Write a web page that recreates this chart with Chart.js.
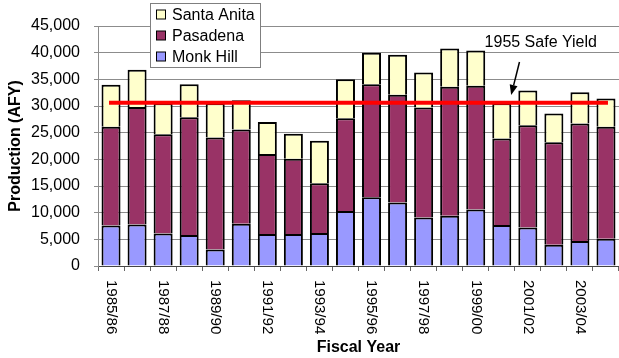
<!DOCTYPE html>
<html>
<head>
<meta charset="utf-8">
<script src="https://cdn.jsdelivr.net/npm/chart.js@4/dist/chart.umd.min.js"></script>
<style>
  html, body { margin: 0; padding: 0; background: #ffffff; }
  #wrap { width: 619px; height: 358px; }
</style>
</head>
<body>
<div id="wrap"><canvas id="chart" width="619" height="358"></canvas></div>
<script>
// Fiscal years on the x axis
const fiscalYears = [
  '1985/86', '1986/87', '1987/88', '1988/89', '1989/90',
  '1990/91', '1991/92', '1992/93', '1993/94', '1994/95',
  '1995/96', '1996/97', '1997/98', '1998/99', '1999/00',
  '2000/01', '2001/02', '2002/03', '2003/04', '2004/05'
];

// Production by subarea (acre-feet per year)
const monkHill = [
  7600, 7800, 6100, 5800, 3100, 7900, 6000, 6000, 6200, 10300,
  12900, 11900, 9100, 9400, 10600, 7700, 7200, 4000, 4700, 5100
];
const pasadena = [
  18500, 22000, 18600, 22100, 21000, 17700, 15000, 14100, 9300, 17400,
  21200, 20200, 20600, 24200, 23200, 16200, 19200, 19200, 22000, 21000
];
const santaAnita = [
  7900, 7000, 5800, 6200, 6400, 5500, 6000, 4700, 8000, 7300,
  5900, 7500, 6600, 7200, 6600, 6600, 6500, 5400, 5900, 5300
];

// 1955 safe yield reference level
const safeYield = 30600;
const safeYieldLine = fiscalYears.map(() => safeYield);

// Axis tick values
const yTicks = [0, 5000, 10000, 15000, 20000, 25000, 30000, 35000, 40000, 45000];

const FONT = "'Liberation Sans', Arial, Helvetica, sans-serif";

// Caption and arrow for the safe-yield line, placed in data units
const safeYieldNote = {
  text: '1955 Safe Yield',
  textAt: { x: 14.34, y: 40970 },
  arrowFrom: { x: 15.68, y: 38250 },
  arrowTo: { x: 15.36, y: 32060 }
};

const overlayPlugin = {
  id: 'overlay',
  afterDraw(chart) {
    const ctx = chart.ctx;
    const xs = chart.scales.x;
    const ys = chart.scales.y;

    // Vertical fiscal-year labels, every other year
    ctx.save();
    ctx.fillStyle = '#000';
    ctx.font = '15px ' + FONT;
    ctx.textAlign = 'left';
    ctx.textBaseline = 'middle';
    fiscalYears.forEach((label, i) => {
      if (i % 2 !== 0) return;
      const px = xs.getPixelForValue(i);
      ctx.save();
      ctx.translate(px, xs.top + 14);
      ctx.rotate(Math.PI / 2);
      ctx.fillText(label, 0, 0);
      ctx.restore();
    });
    ctx.restore();

    // Safe-yield caption and arrow
    ctx.save();
    ctx.fillStyle = '#000';
    ctx.strokeStyle = '#000';
    ctx.font = '16px ' + FONT;
    ctx.textAlign = 'left';
    ctx.textBaseline = 'alphabetic';
    ctx.fillText(safeYieldNote.text,
      xs.getPixelForValue(safeYieldNote.textAt.x),
      ys.getPixelForValue(safeYieldNote.textAt.y));
    const x1 = xs.getPixelForValue(safeYieldNote.arrowFrom.x);
    const y1 = ys.getPixelForValue(safeYieldNote.arrowFrom.y);
    const x2 = xs.getPixelForValue(safeYieldNote.arrowTo.x);
    const y2 = ys.getPixelForValue(safeYieldNote.arrowTo.y);
    const ang = Math.atan2(y2 - y1, x2 - x1);
    const headLen = 10, headHalf = 4;
    const bx = x2 - headLen * Math.cos(ang);
    const by = y2 - headLen * Math.sin(ang);
    ctx.lineWidth = 1.5;
    ctx.beginPath();
    ctx.moveTo(x1, y1);
    ctx.lineTo(bx, by);
    ctx.stroke();
    ctx.beginPath();
    ctx.moveTo(x2, y2);
    ctx.lineTo(bx + headHalf * Math.sin(ang), by - headHalf * Math.cos(ang));
    ctx.lineTo(bx - headHalf * Math.sin(ang), by + headHalf * Math.cos(ang));
    ctx.closePath();
    ctx.fill();
    ctx.restore();

    // Legend box (top series first)
    const box = { x: 150.5, y: 3.5, w: 110, h: 64 };
    ctx.save();
    ctx.fillStyle = '#ffffff';
    ctx.fillRect(box.x, box.y, box.w, box.h);
    ctx.strokeStyle = '#7f7f7f';
    ctx.lineWidth = 1;
    ctx.strokeRect(box.x, box.y, box.w, box.h);
    const items = chart.data.datasets.filter(d => d.type !== 'line').slice().reverse();
    ctx.font = '16px ' + FONT;
    ctx.textAlign = 'left';
    ctx.textBaseline = 'middle';
    items.forEach((d, i) => {
      const cy = 14.5 + i * 21;
      ctx.fillStyle = d.backgroundColor;
      ctx.fillRect(156.5, cy - 4.5, 9, 9);
      ctx.strokeStyle = '#000';
      ctx.lineWidth = 1;
      ctx.strokeRect(156.5, cy - 4.5, 9, 9);
      ctx.fillStyle = '#000';
      ctx.fillText(d.label, 172, cy + 1);
    });
    ctx.restore();
  }
};

new Chart(document.getElementById('chart'), {
  data: {
    labels: fiscalYears,
    datasets: [
      {
        type: 'bar', label: 'Monk Hill', data: monkHill,
        backgroundColor: '#9999ff', borderColor: '#000', borderWidth: 2,
        order: 1
      },
      {
        type: 'bar', label: 'Pasadena', data: pasadena,
        backgroundColor: '#993366', borderColor: '#000', borderWidth: 2,
        order: 1
      },
      {
        type: 'bar', label: 'Santa Anita', data: santaAnita,
        backgroundColor: '#ffffcc', borderColor: '#000', borderWidth: 2,
        order: 1
      },
      {
        type: 'line', label: '1955 Safe Yield', data: safeYieldLine,
        yAxisID: 'yLine', borderColor: '#ff0000', borderWidth: 4,
        borderCapStyle: 'square',
        pointRadius: 0, fill: false, tension: 0, order: 0
      }
    ]
  },
  options: {
    responsive: false,
    animation: false,
    layout: { padding: { top: 26, left: 0, right: 0, bottom: 0 } },
    datasets: {
      bar: { categoryPercentage: 1, barPercentage: 0.73 }
    },
    plugins: {
      legend: { display: false },
      tooltip: { enabled: false }
    },
    scales: {
      x: {
        stacked: true,
        offset: true,
        grid: {
          offset: true, drawOnChartArea: false, drawTicks: true,
          tickLength: 5, color: '#666'
        },
        border: { color: '#444', width: 1 },
        ticks: { display: false },
        title: {
          display: true, text: 'Fiscal Year', color: '#000',
          font: { family: FONT, size: 16, weight: 'bold' },
          padding: { top: 0, bottom: 1 }
        },
        afterFit(scale) { scale.height = 92; }
      },
      y: {
        stacked: true,
        min: 0, max: 45000,
        afterBuildTicks(scale) { scale.ticks = yTicks.map(v => ({ value: v })); },
        grid: { color: '#8c8c8c', tickLength: 4, lineWidth: 1 },
        border: { color: '#8c8c8c', width: 1 },
        ticks: {
          color: '#000', padding: 14,
          font: { family: FONT, size: 16 },
          callback: v => Number(v).toLocaleString('en-US')
        },
        title: {
          display: true, text: 'Production (AFY)', color: '#000',
          font: { family: FONT, size: 16, weight: 'bold' },
          padding: { top: 6, bottom: 0 }
        },
        afterFit(scale) { scale.width = 98; }
      },
      yLine: {
        display: false, min: 0, max: 45000
      }
    }
  },
  plugins: [overlayPlugin]
});
</script>
</body>
</html>
